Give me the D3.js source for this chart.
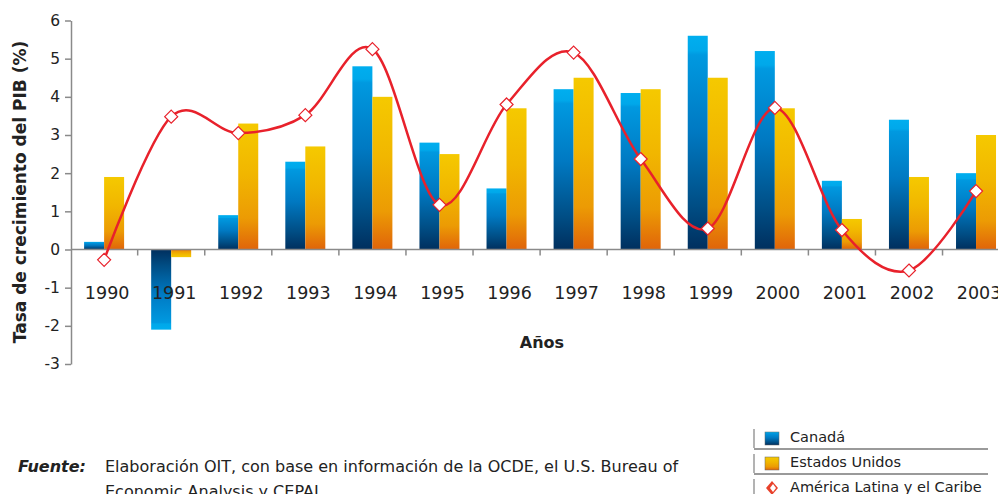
<!DOCTYPE html>
<html>
<head>
<meta charset="utf-8">
<script src="https://cdn.jsdelivr.net/npm/d3@7"></script>
<style>
  html, body { margin: 0; padding: 0; background: #fff; overflow: hidden; }
  text { font-family: "DejaVu Sans", Verdana, sans-serif; fill: #222; }
</style>
</head>
<body>
<div id="chart"></div>
<script>
// Data
var years = ["1990","1991","1992","1993","1994","1995","1996","1997","1998","1999","2000","2001","2002","2003"];
var canada = [0.2, -2.1, 0.9, 2.3, 4.8, 2.8, 1.6, 4.2, 4.1, 5.6, 5.2, 1.8, 3.4, 2.0];
var usa = [1.9, -0.2, 3.3, 2.7, 4.0, 2.5, 3.7, 4.5, 4.2, 4.5, 3.7, 0.8, 1.9, 3.0];
var latam = [-0.27, 3.48, 3.05, 3.52, 5.25, 1.17, 3.8, 5.16, 2.37, 0.55, 3.71, 0.51, -0.55, 1.53];
var yTicks = [-3, -2, -1, 0, 1, 2, 3, 4, 5, 6];
var seriesNames = ["Canadá", "Estados Unidos", "América Latina y el Caribe"];

var w = 998, h = 494;

var svg = d3.select("#chart")
  .append("svg")
  .attr("width", w)
  .attr("height", h);

// gradients
var defs = svg.append("defs");
function grad(id, stops, reverse) {
  var g = defs.append("linearGradient")
    .attr("id", id)
    .attr("x1", 0).attr("y1", reverse ? 1 : 0)
    .attr("x2", 0).attr("y2", reverse ? 0 : 1);
  stops.forEach(function(s) {
    g.append("stop").attr("offset", s[0]).attr("stop-color", s[1]);
  });
}
var caStops = [[0, "#00aeef"], [0.07, "#00a8ea"], [0.09, "#0099e0"], [0.45, "#0079c2"], [0.8, "#004d84"], [1, "#002f5e"]];
var usStops = [[0, "#f5c900"], [0.4, "#f1b600"], [0.75, "#ec9b04"], [1, "#e0640a"]];
grad("caUp", caStops, false);
grad("caDown", caStops, true);
grad("usUp", usStops, false);
grad("usDown", usStops, true);

// scales
var x = d3.scaleBand()
  .domain(years)
  .range([70.6, 1009.6]);

var xSub = d3.scaleBand()
  .domain(["ca", "us"])
  .range([13.5, 53.5]);

var y = d3.scaleLinear()
  .domain([-3, 6])
  .range([364, 20.5]);

// bars
var groups = svg.append("g")
  .selectAll("g")
  .data(years)
  .enter().append("g")
  .attr("transform", function(d) { return "translate(" + x(d) + ",0)"; });

groups.append("rect")
  .attr("x", xSub("ca"))
  .attr("width", xSub.bandwidth())
  .attr("y", function(d, i) { return y(Math.max(0, canada[i])); })
  .attr("height", function(d, i) { return Math.abs(y(canada[i]) - y(0)); })
  .attr("fill", function(d, i) { return canada[i] < 0 ? "url(#caDown)" : "url(#caUp)"; });

groups.append("rect")
  .attr("x", xSub("us"))
  .attr("width", xSub.bandwidth())
  .attr("y", function(d, i) { return y(Math.max(0, usa[i])); })
  .attr("height", function(d, i) { return Math.abs(y(usa[i]) - y(0)); })
  .attr("fill", function(d, i) { return usa[i] < 0 ? "url(#usDown)" : "url(#usUp)"; });

// Y axis
var yAxis = svg.append("g")
  .attr("transform", "translate(71,0)")
  .call(d3.axisLeft(y).tickValues(yTicks).tickSize(6).tickSizeOuter(0).tickPadding(5)
    .tickFormat(function(d) { return String(d); }));
yAxis.select(".domain").attr("stroke", "#8a8a8a").attr("stroke-width", 1.5);
yAxis.selectAll(".tick line").attr("stroke", "#8a8a8a").attr("stroke-width", 1.5);
yAxis.selectAll("text").style("font-size", "15.5px").attr("fill", "#222");

// X axis at zero
svg.append("line")
  .attr("x1", 71).attr("x2", w)
  .attr("y1", y(0)).attr("y2", y(0))
  .attr("stroke", "#8a8a8a").attr("stroke-width", 1.5);

svg.append("g")
  .selectAll("line")
  .data(years)
  .enter().append("line")
  .attr("x1", function(d) { return x(d) + x.bandwidth(); })
  .attr("x2", function(d) { return x(d) + x.bandwidth(); })
  .attr("y1", y(0))
  .attr("y2", y(0) + 6)
  .attr("stroke", "#8a8a8a").attr("stroke-width", 1.5);

var xAxis = svg.append("g")
  .attr("transform", "translate(3," + y(0) + ")")
  .call(d3.axisBottom(x).tickSize(0).tickPadding(37));
xAxis.select(".domain").remove();
xAxis.selectAll("text").style("font-size", "17.5px").attr("fill", "#222");

// line for America Latina
var line = d3.line()
  .x(function(d, i) { return x(years[i]) + x.bandwidth() / 2; })
  .y(function(d) { return y(d); })
  .curve(d3.curveCardinal.tension(0));

svg.append("path")
  .datum(latam)
  .attr("fill", "none")
  .attr("stroke", "#e8212b")
  .attr("stroke-width", 2.5)
  .attr("d", line);

svg.selectAll(".dot")
  .data(latam)
  .enter().append("path")
  .attr("class", "dot")
  .attr("d", "M0,-6.5L6.5,0L0,6.5L-6.5,0Z")
  .attr("transform", function(d, i) {
    return "translate(" + (x(years[i]) + x.bandwidth() / 2) + "," + y(d) + ")";
  })
  .attr("fill", "#fff")
  .attr("stroke", "#e8212b")
  .attr("stroke-width", 1.2);

// axis titles
svg.append("text")
  .attr("transform", "translate(26,192) rotate(-90)")
  .style("text-anchor", "middle")
  .style("font-size", "17px")
  .style("font-weight", "bold")
  .text("Tasa de crecimiento del PIB (%)");

svg.append("text")
  .attr("x", 542)
  .attr("y", 348)
  .style("text-anchor", "middle")
  .style("font-size", "16px")
  .style("font-weight", "bold")
  .text("Años");

// source note
svg.append("text")
  .attr("x", 18)
  .attr("y", 472)
  .style("font-size", "16px")
  .style("font-weight", "bold")
  .style("font-style", "italic")
  .text("Fuente:");

svg.append("text")
  .attr("x", 105)
  .attr("y", 472)
  .style("font-size", "16px")
  .attr("fill", "#333")
  .text("Elaboración OIT, con base en información de la OCDE, el U.S. Bureau of");

svg.append("text")
  .attr("x", 105)
  .attr("y", 497)
  .style("font-size", "16px")
  .attr("fill", "#333")
  .text("Economic Analysis y CEPAL");

// legend
var legend = svg.append("g").attr("transform", "translate(754,428)");
var rows = legend.selectAll("g")
  .data(seriesNames)
  .enter().append("g")
  .attr("transform", function(d, i) { return "translate(0," + (i * 25) + ")"; });

rows.append("line")
  .attr("x1", 0).attr("x2", 0)
  .attr("y1", 1).attr("y2", 20)
  .attr("stroke", "#9a9a9a").attr("stroke-width", 1.5);

rows.filter(function(d, i) { return i < 2; })
  .append("line")
  .attr("x1", 0).attr("x2", 234)
  .attr("y1", 21).attr("y2", 21)
  .attr("stroke", "#9a9a9a").attr("stroke-width", 2);

rows.filter(function(d, i) { return i < 2; })
  .append("rect")
  .attr("x", 11).attr("y", 4)
  .attr("width", 14).attr("height", 13)
  .attr("fill", function(d, i) { return i === 0 ? "url(#caUp)" : "url(#usUp)"; })
  .attr("stroke", "#666").attr("stroke-width", 0.5);

rows.filter(function(d, i) { return i === 2; })
  .append("path")
  .attr("d", "M18,3L24,10L18,17L12,10Z")
  .attr("fill", "#e8412b");
rows.filter(function(d, i) { return i === 2; })
  .append("path")
  .attr("d", "M19,6L22,10L19,14L16,10Z")
  .attr("fill", "#fff");

rows.append("text")
  .attr("x", 36)
  .attr("y", 14)
  .style("font-size", "14.5px")
  .attr("fill", "#222")
  .text(function(d) { return d; });
</script>
</body>
</html>
